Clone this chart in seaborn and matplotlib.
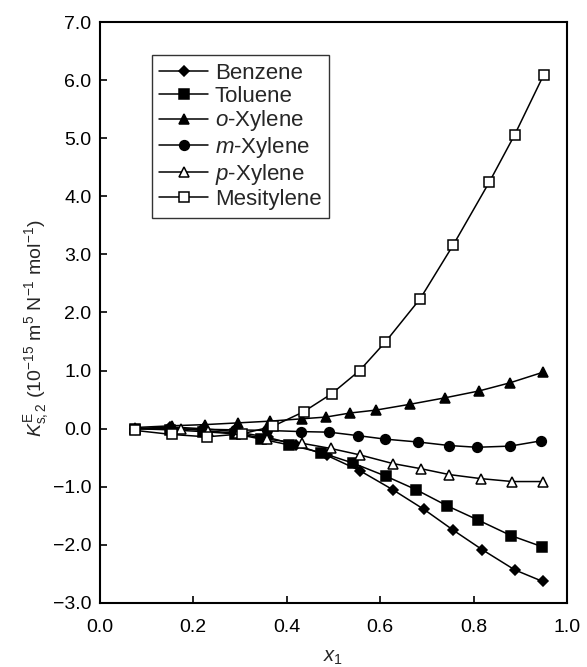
import numpy as np
import pandas as pd
import matplotlib
matplotlib.use("Agg")
import matplotlib.pyplot as plt
import seaborn as sns

# mole fraction x1 and excess K values
x_benzene = [0.076, 0.150, 0.220, 0.290, 0.360, 0.420, 0.486, 0.556, 0.627, 0.694, 0.757, 0.818, 0.888, 0.948]
y_benzene = [0.00, 0.03, 0.00, -0.05, -0.15, -0.28, -0.46, -0.72, -1.05, -1.39, -1.75, -2.08, -2.43, -2.63]

x_toluene = [0.076, 0.150, 0.220, 0.290, 0.346, 0.406, 0.473, 0.541, 0.613, 0.677, 0.744, 0.809, 0.880, 0.946]
y_toluene = [0.00, -0.02, -0.05, -0.09, -0.18, -0.28, -0.41, -0.59, -0.82, -1.05, -1.33, -1.57, -1.84, -2.03]

x_oxylene = [0.076, 0.154, 0.225, 0.296, 0.365, 0.432, 0.484, 0.536, 0.591, 0.664, 0.738, 0.812, 0.878, 0.948]
y_oxylene = [0.02, 0.05, 0.07, 0.10, 0.13, 0.17, 0.20, 0.27, 0.32, 0.42, 0.53, 0.65, 0.79, 0.97]

x_mxylene = [0.076, 0.150, 0.220, 0.290, 0.357, 0.430, 0.491, 0.553, 0.611, 0.682, 0.748, 0.807, 0.878, 0.944]
y_mxylene = [0.00, 0.00, -0.01, -0.02, -0.03, -0.05, -0.06, -0.12, -0.18, -0.23, -0.29, -0.32, -0.30, -0.21]

x_pxylene = [0.076, 0.174, 0.232, 0.296, 0.357, 0.432, 0.494, 0.556, 0.627, 0.688, 0.748, 0.816, 0.883, 0.949]
y_pxylene = [0.00, 0.00, -0.04, -0.08, -0.18, -0.25, -0.34, -0.45, -0.60, -0.69, -0.79, -0.86, -0.91, -0.91]

x_mesitylene = [0.076, 0.154, 0.229, 0.304, 0.370, 0.436, 0.496, 0.556, 0.611, 0.686, 0.757, 0.834, 0.888, 0.950]
y_mesitylene = [-0.03, -0.10, -0.14, -0.09, 0.04, 0.29, 0.60, 1.00, 1.49, 2.24, 3.17, 4.25, 5.06, 6.09]

sns.set_style("ticks")
plt.rcParams["font.family"] = ["Liberation Sans", "DejaVu Sans"]
plt.rcParams["mathtext.fontset"] = "custom"
plt.rcParams["mathtext.rm"] = "Liberation Sans"
plt.rcParams["mathtext.it"] = "Liberation Sans:italic"

fig, ax = plt.subplots(figsize=(5.87, 6.67), dpi=100)
fig.subplots_adjust(left=0.170, right=0.966, top=0.967, bottom=0.096)

series = [
    (x_benzene, y_benzene, "Benzene", "D", "black", 5.5),
    (x_toluene, y_toluene, "Toluene", "s", "black", 7),
    (x_oxylene, y_oxylene, "$o$-Xylene", "^", "black", 7),
    (x_mxylene, y_mxylene, "$m$-Xylene", "o", "black", 7),
    (x_pxylene, y_pxylene, "$p$-Xylene", "^", "white", 7),
    (x_mesitylene, y_mesitylene, "Mesitylene", "s", "white", 7),
]

for xs, ys, name, mk, fc, ms in series:
    sns.lineplot(x=xs, y=ys, ax=ax, color="black", linewidth=1.1,
                 marker=mk, markersize=ms, markerfacecolor=fc,
                 markeredgecolor="black", markeredgewidth=1.1, label=name)

fmt = matplotlib.ticker.FuncFormatter(lambda v, p: f"{v:.1f}".replace("-", "\u2212"))
ax.set_xlim(0, 1.0)
ax.set_ylim(-3.0, 7.0)
ax.set_xticks(np.arange(0, 1.01, 0.2))
ax.set_yticks(np.arange(-3, 7.01, 1.0))
ax.xaxis.set_major_formatter(fmt)
ax.yaxis.set_major_formatter(fmt)
ax.tick_params(direction="in", length=5, width=1.2, labelsize=14, colors="black")
ax.tick_params(axis="x", pad=11.5)
ax.tick_params(axis="y", pad=6)
for sp in ax.spines.values():
    sp.set_linewidth(1.5)
    sp.set_color("black")

ax.set_xlabel("$x_1$", fontsize=14.5, labelpad=9)
ax.set_ylabel(r"$K^{\mathrm{E}}_{\mathrm{s,2}}$ (10$^{-15}$ m$^{5}$ N$^{-1}$ mol$^{-1}$)", fontsize=14)
ax.yaxis.set_label_coords(-0.105, 0.472)

leg = ax.legend(loc="upper left", bbox_to_anchor=(0.111, 0.943), borderaxespad=0,
                fontsize=16, frameon=True, fancybox=False, edgecolor="black",
                handlelength=2.2, labelspacing=0.08, handletextpad=0.3, borderpad=0.35)
leg.get_frame().set_linewidth(1.0)

fig.savefig("out.png", dpi=100)
